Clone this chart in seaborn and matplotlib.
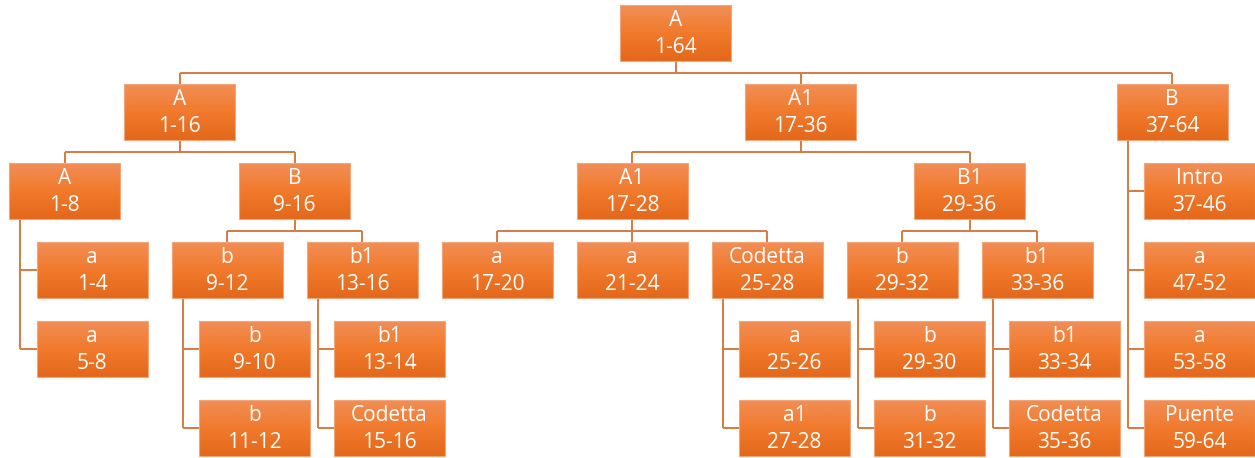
import numpy as np
import matplotlib.pyplot as plt
import seaborn as sns

# ── Data: form analysis tree ──────────────────────────────
labels = ["A", "A", "A1", "B", "A", "B", "a", "a", "b", "b1",
          "b", "b", "b1", "Codetta", "A1", "B1", "a", "a", "Codetta",
          "a", "a1", "b", "b1", "b", "b", "b1", "Codetta",
          "Intro", "a", "a", "Puente"]
ranges = ["1-64", "1-16", "17-36", "37-64", "1-8", "9-16", "1-4", "5-8",
          "9-12", "13-16", "9-10", "11-12", "13-14", "15-16", "17-28",
          "29-36", "17-20", "21-24", "25-28", "25-26", "27-28", "29-32",
          "33-36", "29-30", "31-32", "33-34", "35-36",
          "37-46", "47-52", "53-58", "59-64"]
parents = [None, 0, 0, 0, 1, 1, 4, 4, 5, 5,
           8, 8, 9, 9, 2, 2, 14, 14, 14,
           18, 18, 15, 15, 21, 21, 22, 22,
           3, 3, 3, 3]

# ── Layout settings (pixels) ──────────────────────────────
W, H = 111, 56
GAP = 24          # min horizontal gap between neighbours on a row
ROW = 79          # row pitch
TOP = 5
INDENT = 27.5     # hanging children offset
STEM = 11         # hanging connector offset from parent's left

children = {i: [] for i in range(len(labels))}
for i, p in enumerate(parents):
    if p is not None:
        children[p].append(i)


def is_hanging(n):
    kids = children[n]
    return len(kids) > 0 and all(len(children[k]) == 0 for k in kids)


def place(n, depth):
    """returns ({node: (x, row)}, {row: (left, right)}) relative coords"""
    kids = children[n]
    if not kids:
        return {n: (0, depth)}, {depth: (0, W)}
    if is_hanging(n):
        pos = {n: (0, depth)}
        cont = {depth: (0, W)}
        for k, c in enumerate(kids):
            pos[c] = (INDENT, depth + 1 + k)
            cont[depth + 1 + k] = (INDENT, INDENT + W)
        return pos, cont
    pos, cont = {}, {}
    for c in kids:
        cp, cc = place(c, depth + 1)
        if cont:
            shift = max(cont[r][1] + GAP - cc[r][0] for r in cc if r in cont)
        else:
            shift = 0
        for k, (x, r) in cp.items():
            pos[k] = (x + shift, r)
        for r, (lo, hi) in cc.items():
            lo, hi = lo + shift, hi + shift
            if r in cont:
                cont[r] = (min(cont[r][0], lo), max(cont[r][1], hi))
            else:
                cont[r] = (lo, hi)
    cx = (pos[kids[0]][0] + pos[kids[-1]][0]) / 2
    pos[n] = (cx, depth)
    cont[depth] = (cx, cx + W)
    return pos, cont


pos, cont = place(0, 0)
xmin = min(lo for lo, hi in cont.values())
pos = {k: (x - xmin + 9, r) for k, (x, r) in pos.items()}

# ── Drawing ───────────────────────────────────────────────
sns.set_theme(style="white")
plt.rcParams["font.family"] = ["Open Sans", "DejaVu Sans"]

fig = plt.figure(figsize=(12.55, 4.58), dpi=100)
ax = fig.add_axes([0, 0, 1, 1])
ax.set_xlim(0, 1255)
ax.set_ylim(458, 0)
ax.axis("off")

cmap = sns.blend_palette(["#F18E56", "#F17A2C", "#E3681B"], as_cmap=True)
grad = np.linspace(0, 1, 64).reshape(-1, 1)
line_kw = dict(color="#D67B42", lw=1.4, zorder=1, solid_capstyle="butt")


def top_of(r):
    return TOP + r * ROW


for n, kids in children.items():
    if not kids:
        continue
    x, r = pos[n]
    y_bot = top_of(r) + H
    if is_hanging(n):
        sx = x + STEM
        last_cy = top_of(pos[kids[-1]][1]) + H / 2
        ax.plot([sx, sx], [y_bot, last_cy], **line_kw)
        for c in kids:
            cx, cr = pos[c]
            cy = top_of(cr) + H / 2
            ax.plot([sx, cx], [cy, cy], **line_kw)
    else:
        mid = y_bot + (ROW - H) / 2
        ax.plot([x + W / 2, x + W / 2], [y_bot, mid], **line_kw)
        xs = [pos[c][0] + W / 2 for c in kids]
        ax.plot([min(xs), max(xs)], [mid, mid], **line_kw)
        for c in kids:
            ax.plot([pos[c][0] + W / 2] * 2, [mid, top_of(pos[c][1])], **line_kw)

for n in range(len(labels)):
    x, r = pos[n]
    y0 = top_of(r)
    ax.imshow(grad, extent=(x, x + W, y0 + H, y0), cmap=cmap, aspect="auto",
              interpolation="bilinear", zorder=2)
    ax.add_patch(plt.Rectangle((x, y0), W, H, fill=False, ec="#F4A577",
                               lw=0.8, zorder=3))
    ax.text(x + W / 2, y0 + H / 2 + 1, f"{labels[n]}\n{ranges[n]}",
            ha="center", va="center", color="white", fontsize=15,
            linespacing=1.42, zorder=4)

ax.set_xlim(0, 1255)
ax.set_ylim(458, 0)
fig.savefig("out.png", dpi=100)
